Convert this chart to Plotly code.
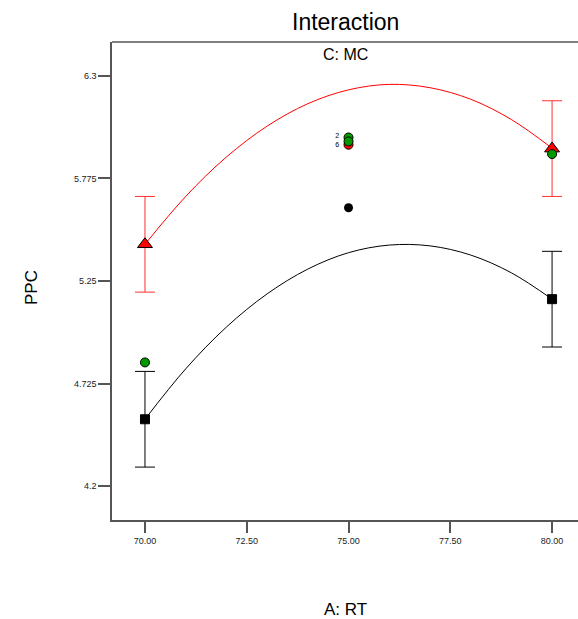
import plotly.graph_objects as go

# Curve (predicted) values
curve_x = [70, 71, 72, 73, 74, 75, 76, 77, 78, 79, 80]
curve_high = [5.438, 5.683, 5.885, 6.043, 6.158, 6.229, 6.257, 6.240, 6.181, 6.077, 5.930]
curve_low = [4.542, 4.800, 5.014, 5.184, 5.311, 5.395, 5.434, 5.430, 5.383, 5.292, 5.157]

# Endpoint means with LSD-type error bars
end_x = [70, 80]
end_high = [5.438, 5.928]
end_low = [4.542, 5.157]
err_half = [0.245, 0.245]

# Design points
green_x = [70, 80, 75, 75]
green_y = [4.833, 5.900, 5.985, 5.965]
red_pt_x = [75]
red_pt_y = [5.948]
black_pt_x = [75]
black_pt_y = [5.625]
label_x = [74.72]
label_y = [5.968]
label_txt = ["2<br>6"]

x_ticks = [70, 72.5, 75, 77.5, 80]
x_tick_text = ["70.00", "72.50", "75.00", "77.50", "80.00"]
y_ticks = [4.2, 4.725, 5.25, 5.775, 6.3]
y_tick_text = ["4.2", "4.725", "5.25", "5.775", "6.3"]

fig = go.Figure()

fig.add_trace(go.Scatter(x=curve_x, y=curve_high, mode="lines", line=dict(color="red", width=1, shape="spline"),
                         showlegend=False, hoverinfo="skip"))
fig.add_trace(go.Scatter(x=curve_x, y=curve_low, mode="lines", line=dict(color="black", width=1, shape="spline"),
                         showlegend=False, hoverinfo="skip"))

fig.add_trace(go.Scatter(x=end_x, y=end_high, mode="markers",
                         marker=dict(symbol="triangle-up", size=13, color="red", line=dict(color="black", width=1)),
                         error_y=dict(type="data", array=err_half, color="#ff3030", thickness=1, width=10),
                         showlegend=False))
fig.add_trace(go.Scatter(x=end_x, y=end_low, mode="markers",
                         marker=dict(symbol="square", size=9, color="black", line=dict(color="black", width=1)),
                         error_y=dict(type="data", array=err_half, color="black", thickness=1, width=10),
                         showlegend=False))

fig.add_trace(go.Scatter(x=red_pt_x, y=red_pt_y, mode="markers",
                         marker=dict(symbol="circle", size=9, color="red", line=dict(color="black", width=1)),
                         showlegend=False))
fig.add_trace(go.Scatter(x=green_x, y=green_y, mode="markers",
                         marker=dict(symbol="circle", size=9, color="#009900", line=dict(color="black", width=1)),
                         showlegend=False))
fig.add_trace(go.Scatter(x=black_pt_x, y=black_pt_y, mode="markers",
                         marker=dict(symbol="circle", size=9, color="black"),
                         showlegend=False))
fig.add_trace(go.Scatter(x=label_x, y=label_y, mode="text", text=label_txt,
                         textfont=dict(size=7, color="black", family="Liberation Sans"),
                         showlegend=False))

fig.update_layout(
    width=578, height=619,
    margin=dict(l=112, r=0, t=42, b=99),
    paper_bgcolor="white", plot_bgcolor="white",
    font=dict(family="Liberation Sans, Arial, sans-serif", color="black"),
    xaxis=dict(range=[69.19, 80.637], tickvals=x_ticks, ticktext=x_tick_text,
               showgrid=False, zeroline=False, showline=True, linecolor="#555", linewidth=1.5,
               ticks="outside", ticklen=11, tickcolor="#555", tickwidth=1.5,
               tickfont=dict(size=9, color="#222")),
    yaxis=dict(range=[4.026, 6.474], tickvals=y_ticks, ticktext=y_tick_text,
               showgrid=False, zeroline=False, showline=True, linecolor="#555", linewidth=1.5,
               ticks="outside", ticklen=12, tickcolor="#555", tickwidth=1.5,
               tickfont=dict(size=9, color="#222")),
    shapes=[dict(type="line", xref="paper", yref="paper", x0=0, x1=1, y0=1, y1=1,
                 line=dict(color="#555", width=1.5))],
    annotations=[
        dict(text="Interaction", x=0.5, y=1, xref="paper", yref="paper", showarrow=False,
             font=dict(size=23, color="black"), yanchor="middle", yshift=20),
        dict(text="C: MC", x=0.5, y=1, xref="paper", yref="paper", showarrow=False,
             font=dict(size=16, color="black"), yanchor="top", yshift=-2),
        dict(text="A: RT", x=0.5, y=0, xref="paper", yref="paper", showarrow=False,
             font=dict(size=17, color="black"), yanchor="middle", yshift=-89),
        dict(text="PPC", x=0, y=0.5, xref="paper", yref="paper", showarrow=False, textangle=-90,
             font=dict(size=17, color="black"), xanchor="center", xshift=-81, yshift=-7),
    ],
)

fig.write_html("out.html")
